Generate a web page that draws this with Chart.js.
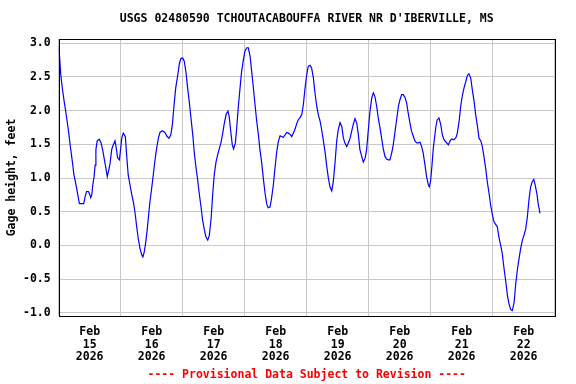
<!DOCTYPE html>
<html>
<head>
<meta charset="utf-8">
<script src="https://cdn.jsdelivr.net/npm/chart.js@4/dist/chart.umd.min.js"></script>
<style>
  html, body { margin: 0; padding: 0; background: #fff; }
  #wrap { width: 576px; height: 384px; }
</style>
</head>
<body>
<div id="wrap"><canvas id="gageChart" width="576" height="384"></canvas></div>
<script>
// hours since Feb 15 2026 00:00, and gage height in feet
const hours = [
  0.1, 0.4, 0.8, 1.4, 2.1, 2.7, 3.3, 3.9, 4.6, 5.3, 5.9, 6.6, 7.4, 8.0, 8.9, 9.7,
  10.2, 10.8, 11.5, 12.0, 12.4, 12.8, 13.2, 13.7, 14.1, 14.4, 14.9, 15.7, 16.4, 17.0,
  17.7, 18.3, 18.8, 19.4, 19.9, 20.5, 21.1, 21.8, 22.3, 22.8, 23.5, 24.0, 24.4, 25.0,
  25.8, 26.3, 26.9, 27.6, 28.3, 28.9, 29.5, 30.2, 30.8, 31.5, 32.1, 32.6, 33.1, 33.7,
  34.3, 35.3, 36.0, 36.6, 37.3, 37.9, 38.6, 39.2, 40.1, 41.1, 42.0, 42.7, 43.4, 44.0,
  44.6, 45.3, 46.1, 46.7, 47.3, 48.0, 48.6, 49.3, 49.9, 50.6, 51.2, 51.9, 52.5, 53.1,
  53.8, 54.4, 55.1, 55.7, 56.4, 57.0, 57.7, 58.3, 59.0, 59.6, 60.2, 60.9, 61.5, 62.2,
  62.8, 63.5, 64.1, 64.8, 65.5, 66.0, 66.6, 67.2, 67.7, 68.4, 68.9, 69.5, 70.2, 70.8,
  71.5, 72.1, 72.8, 73.4, 74.1, 74.7, 75.3, 76.0, 76.6, 77.3, 77.9, 78.6, 79.2, 79.9,
  80.5, 81.1, 81.8, 82.4, 83.1, 83.7, 84.4, 85.0, 85.7, 86.3, 86.9, 87.6, 88.3, 88.9,
  89.5, 90.2, 90.8, 91.5, 92.1, 92.7, 93.4, 94.1, 94.7, 95.3, 96.0, 96.6, 97.3, 97.9,
  98.6, 99.2, 99.9, 100.5, 101.2, 101.8, 102.4, 103.1, 103.7, 104.4, 105.0, 105.7, 106.3,
  107.0, 107.6, 108.2, 108.9, 109.6, 110.2, 110.8, 111.5, 112.1, 112.8, 113.4, 114.0,
  114.7, 115.4, 116.0, 116.6, 117.3, 117.9, 118.6, 119.2, 119.8, 120.5, 121.2, 121.8,
  122.4, 123.1, 123.7, 124.4, 125.0, 125.6, 126.3, 126.9, 127.6, 128.2, 128.9, 129.5,
  130.2, 130.8, 131.5, 132.1, 132.8, 133.4, 134.1, 134.7, 135.3, 136.0, 136.6, 137.3,
  137.9, 138.6, 139.2, 139.9, 140.5, 141.1, 141.8, 142.4, 143.1, 143.5, 144.0, 144.5,
  145.0, 145.5, 146.0, 146.5, 147.2, 147.9, 148.5, 149.2, 150.0, 150.8, 151.5, 152.1,
  153.0, 153.8, 154.3, 155.0, 155.6, 156.2, 156.9, 157.6, 158.2, 158.8, 159.5, 160.1,
  160.8, 161.4, 162.0, 162.7, 163.4, 164.0, 164.6, 165.3, 165.9, 166.6, 167.2, 167.9,
  168.5, 169.2, 169.8, 170.4, 171.1, 171.7, 172.4, 173.1, 173.7, 174.3, 175.0, 175.6,
  176.3, 176.9, 177.6, 178.2, 178.8, 179.5, 180.1, 180.8, 181.4, 182.1, 182.7, 183.3,
  183.9, 184.4, 185.1, 185.6, 186.3
];
const gageHeight = [
  2.95, 2.76, 2.53, 2.33, 2.14, 1.99, 1.83, 1.665, 1.44, 1.24, 1.045, 0.92, 0.75, 0.62, 0.62, 0.62,
  0.72, 0.80, 0.80, 0.76, 0.71, 0.75, 0.90, 1.02, 1.19, 1.42, 1.55, 1.575, 1.52, 1.42,
  1.27, 1.14, 1.02, 1.12, 1.22, 1.42, 1.49, 1.55, 1.44, 1.30, 1.27, 1.44, 1.59, 1.665,
  1.615, 1.34, 1.045, 0.90, 0.75, 0.645, 0.50, 0.275, 0.10, -0.05, -0.135, -0.17, -0.10, 0.05,
  0.25, 0.645, 0.85, 1.045, 1.27, 1.44, 1.59, 1.675, 1.70, 1.675, 1.615, 1.59, 1.64, 1.79,
  2.06, 2.335, 2.53, 2.69, 2.77, 2.78, 2.73, 2.56, 2.335, 2.11, 1.89, 1.64, 1.37, 1.17,
  0.97, 0.77, 0.57, 0.375, 0.23, 0.125, 0.08, 0.15, 0.40, 0.75, 1.045, 1.24, 1.34, 1.44,
  1.52, 1.665, 1.81, 1.94, 1.99, 1.91, 1.69, 1.49, 1.43, 1.52, 1.74, 2.04, 2.335, 2.58,
  2.755, 2.88, 2.93, 2.93, 2.80, 2.58, 2.36, 2.085, 1.86, 1.64, 1.42, 1.22, 0.995, 0.77,
  0.62, 0.56, 0.57, 0.70, 0.90, 1.14, 1.39, 1.54, 1.625, 1.615, 1.60, 1.64, 1.675, 1.665,
  1.65, 1.615, 1.665, 1.725, 1.80, 1.86, 1.895, 1.94, 2.085, 2.31, 2.53, 2.655, 2.67, 2.63,
  2.48, 2.26, 2.06, 1.94, 1.84, 1.715, 1.565, 1.39, 1.19, 0.995, 0.87, 0.81, 0.945,
  1.24, 1.54, 1.715, 1.82, 1.76, 1.59, 1.52, 1.465, 1.52, 1.59, 1.69, 1.79,
  1.88, 1.81, 1.64, 1.42, 1.32, 1.235, 1.29, 1.42, 1.69, 1.99, 2.19, 2.26,
  2.21, 2.06, 1.89, 1.74, 1.59, 1.44, 1.32, 1.28, 1.27, 1.27, 1.37, 1.49,
  1.69, 1.86, 2.06, 2.16, 2.235, 2.235, 2.19, 2.11, 1.96, 1.81, 1.69, 1.615,
  1.55, 1.52, 1.52, 1.53, 1.465, 1.37, 1.19, 1.02, 0.895, 0.87, 0.97, 1.19,
  1.44, 1.60, 1.76, 1.86, 1.89, 1.79, 1.64, 1.565, 1.53, 1.49, 1.55, 1.58,
  1.565, 1.60, 1.665, 1.84, 2.06, 2.21, 2.335, 2.43, 2.52, 2.545, 2.48, 2.31,
  2.135, 1.94, 1.79, 1.59, 1.55, 1.465, 1.32, 1.14, 0.945, 0.77, 0.60, 0.45,
  0.35, 0.31, 0.275, 0.125, 0.0, -0.12, -0.345, -0.545, -0.74, -0.865, -0.95, -0.965,
  -0.84, -0.57, -0.345, -0.195, -0.05, 0.08, 0.15, 0.25, 0.42, 0.70, 0.87, 0.945,
  0.98, 0.905, 0.77, 0.62, 0.475
];
const dayLabels = ["15", "16", "17", "18", "19", "20", "21", "22"];
const yTicks = [-1.0, -0.5, 0.0, 0.5, 1.0, 1.5, 2.0, 2.5, 3.0];
const titleText = "USGS 02480590 TCHOUTACABOUFFA RIVER NR D'IBERVILLE, MS";
const footerText = "---- Provisional Data Subject to Revision ----";

const monoFont = "'DejaVu Sans Mono', 'Liberation Mono', monospace";
const gridGray = "#c8c8c8";

const points = hours.map((h, i) => ({ x: h, y: gageHeight[i] }));

// box round the plot, plus title and footer centred on the plot area
const frame = {
  id: "frame",
  afterDraw(chart) {
    const a = chart.chartArea;
    const c = chart.ctx;
    c.save();
    c.strokeStyle = "#000";
    c.lineWidth = 1;
    c.strokeRect(Math.round(a.left) + 0.5, Math.round(a.top) + 0.5,
      Math.round(a.right - a.left), Math.round(a.bottom - a.top));
    const cx = (a.left + a.right) / 2;
    c.font = "bold 11.5px " + monoFont;
    c.textAlign = "center";
    c.textBaseline = "middle";
    c.fillStyle = "#000";
    c.fillText(titleText, cx, 19);
    c.fillStyle = "#ff0000";
    c.fillText(footerText, cx, 375);
    c.restore();
  }
};

new Chart(document.getElementById("gageChart"), {
  type: "line",
  data: {
    datasets: [{
      data: points,
      borderColor: "#0000ff",
      borderWidth: 1.2,
      pointRadius: 0,
      tension: 0,
      fill: false
    }]
  },
  options: {
    responsive: false,
    animation: false,
    events: [],
    layout: { padding: { left: 0, right: 21.3, top: 39, bottom: 20.4 } },
    plugins: {
      legend: { display: false },
      tooltip: { enabled: false },
      title: { display: false }
    },
    scales: {
      x: {
        type: "linear",
        min: 0,
        max: 192,
        afterBuildTicks(scale) {
          const t = [];
          for (let v = 0; v <= 192; v += 12) t.push({ value: v });
          scale.ticks = t;
        },
        afterFit(scale) {
          scale.height = 47.6;
          scale.paddingLeft = 0;
          scale.paddingRight = 0;
        },
        grid: {
          drawTicks: false,
          color: (ctx) => (ctx.tick && ctx.tick.value % 24 === 0) ? gridGray : "rgba(0,0,0,0)",
          lineWidth: 1
        },
        border: { display: false },
        ticks: {
          autoSkip: false,
          maxRotation: 0,
          padding: 9.5,
          color: "#000",
          font: { family: monoFont, size: 11.5, weight: "bold", lineHeight: 1.11 },
          callback(value) {
            if (value % 24 !== 12) return "";
            return ["Feb", dayLabels[(value - 12) / 24], "2026"];
          }
        }
      },
      y: {
        type: "linear",
        min: -1.045,
        max: 3.06,
        afterBuildTicks(scale) {
          scale.ticks = yTicks.map(v => ({ value: v }));
        },
        afterFit(scale) {
          scale.width = 58.7;
          scale.paddingTop = 0;
          scale.paddingBottom = 0;
        },
        grid: { drawTicks: false, color: gridGray, lineWidth: 1 },
        border: { display: false },
        title: {
          display: true,
          text: "Gage height, feet",
          color: "#000",
          font: { family: monoFont, size: 11.5, weight: "bold" },
          padding: { top: 5, bottom: 0 }
        },
        ticks: {
          padding: 8,
          color: "#000",
          font: { family: monoFont, size: 11.5, weight: "bold" },
          callback: (v) => v.toFixed(1)
        }
      }
    }
  },
  plugins: [frame]
});
</script>
</body>
</html>
